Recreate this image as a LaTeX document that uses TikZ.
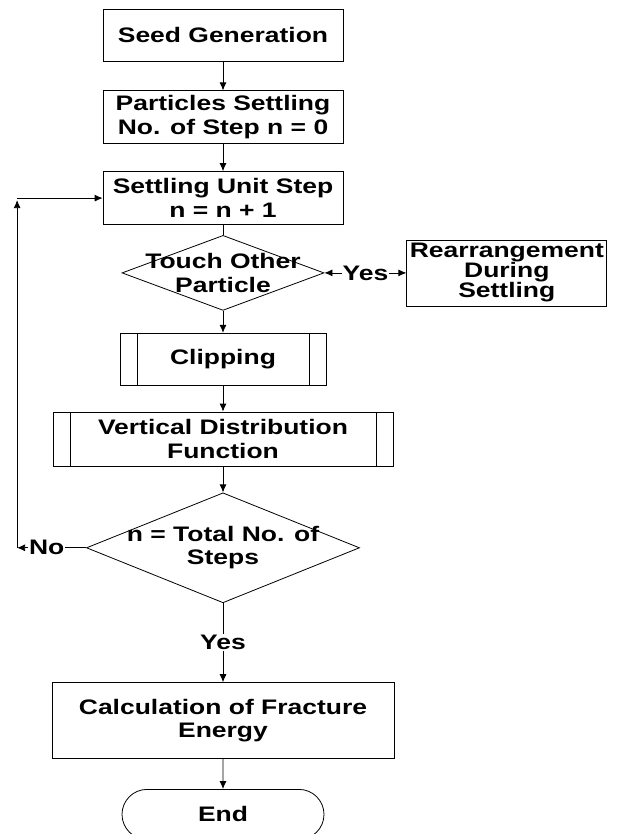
\documentclass[tikz,border=0pt]{standalone}
\usepackage{fontspec}
\newfontfamily\flowfont{Liberation Sans}[FakeStretch=1.26]
\usetikzlibrary{arrows.meta, positioning, shapes.geometric, shapes.misc}

\begin{document}
\begin{tikzpicture}[
    >={Latex[length=8pt,width=7pt]},
    line width=0.8pt,
    font=\flowfont\bfseries\fontsize{21}{23.5}\selectfont,
    box/.style={rectangle, draw, align=center, inner sep=2pt},
    subproc/.style={box, path picture={
        \draw ([xshift=17pt]path picture bounding box.north west) -- ([xshift=17pt]path picture bounding box.south west);
        \draw ([xshift=-17pt]path picture bounding box.north east) -- ([xshift=-17pt]path picture bounding box.south east);}},
    decision/.style={diamond, draw, inner sep=0pt},
    terminal/.style={rounded rectangle, draw, inner sep=2pt},
    tag/.style={fill=white, inner sep=1pt}
]
\useasboundingbox (0,0) rectangle (618pt,-834pt);

% --- Nodes ---
\node[box, minimum width=240pt, minimum height=52pt] (seed) at (223pt,-35pt) {Seed Generation};
\node[box, minimum width=240pt, minimum height=53pt, below=29pt of seed] (settle) {Particles Settling\\No. of Step n = 0};
\node[box, minimum width=240pt, minimum height=53pt, below=27pt of settle] (unit) {Settling Unit Step\\n = n + 1};
\node[decision, minimum width=202pt, minimum height=75pt, below=10pt of unit,
      label={[align=center]center:{Touch Other\\Particle}}] (touch) {};
\node[box, minimum width=200pt, minimum height=66pt, inner sep=0pt, right=82pt of touch,
      font=\flowfont\bfseries\fontsize{21}{20}\selectfont] (rearr) {Rearrangement\\During\\Settling};
\node[subproc, minimum width=206pt, minimum height=52pt, below=22pt of touch] (clip) {Clipping};
\node[subproc, minimum width=340pt, minimum height=54pt, below=26pt of clip] (vdf) {Vertical Distribution\\Function};
\node[decision, minimum width=273pt, minimum height=110pt, below=26pt of vdf,
      label={[align=center]center:{n = Total No. of\\Steps}}] (total) {};
\node[box, minimum width=342pt, minimum height=76pt, below=79pt of total] (calc) {Calculation of Fracture\\Energy};
\node[terminal, minimum width=206pt, minimum height=50pt, below=30pt of calc] (finish) {End};

% --- Edges ---
\draw[->] (seed) -- (settle);
\draw[->] (settle) -- (unit);
\draw (unit) -- (touch);
\draw[<->] (touch) -- node[tag] {Yes} (rearr);
\draw[->] (touch) -- (clip);
\draw[->] (clip) -- (vdf);
\draw[->] (vdf) -- (total);
\draw[->] (total) -- node[tag] {Yes} (calc);
\draw[->] (calc) -- (finish);

% --- Loop back ---
\coordinate[left=69pt of total.west] (nobot);
\coordinate (notop) at (nobot |- unit.west);
\draw[->] (total.west) -- node[tag, pos=0.57] {No} (nobot);
\draw[->] (nobot) -- ([yshift=-2pt]notop);
\draw[->] (notop) -- (unit.west);

\end{tikzpicture}
\end{document}
